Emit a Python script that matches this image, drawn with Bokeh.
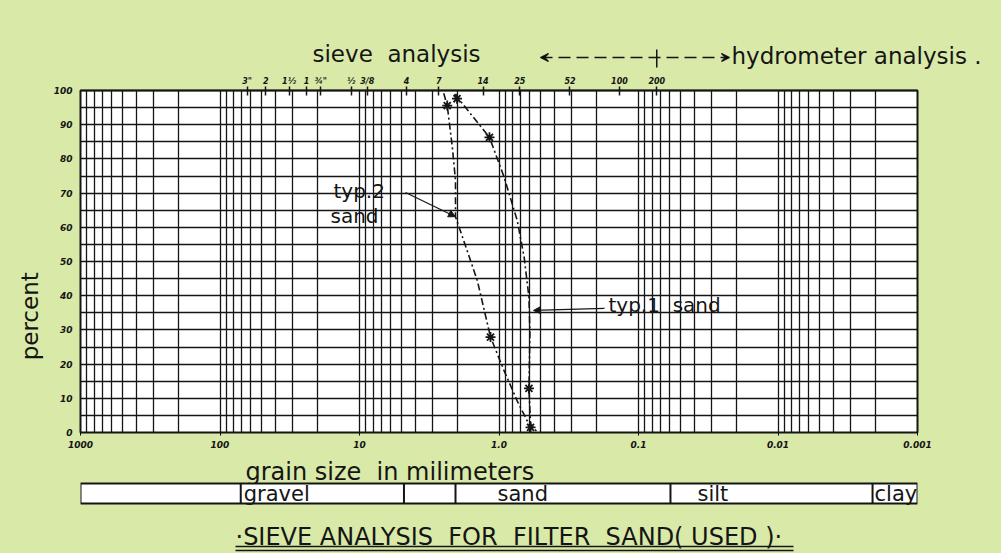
import math
from bokeh.plotting import figure
from bokeh.layouts import column
from bokeh.models import Range1d, FixedTicker, LogAxis, Arrow, NormalHead, VeeHead
from bokeh.embed import file_html
from bokeh.resources import INLINE
from bokeh.core.properties import value

# ---------------- data ----------------
type1_mm = [2.08, 1.17, 0.92, 0.74, 0.66, 0.61, 0.60, 0.61, 0.594, 0.53]
type1_pct = [99.0, 86.3, 74.7, 62.0, 51.2, 39.5, 29.0, 12.9, 2.5, 0.0]
type1_star_mm = [2.0, 1.17, 0.61]
type1_star_pct = [97.6, 86.3, 12.9]

type2_mm = [2.49, 2.35, 2.16, 2.05, 2.05, 1.79, 1.43, 1.15, 0.92, 0.74, 0.594]
type2_pct = [99.2, 95.6, 83.4, 73.7, 63.1, 56.1, 44.4, 27.9, 18.1, 9.2, 1.5]
type2_star_mm = [2.35, 1.15, 0.594]
type2_star_pct = [95.6, 27.9, 1.5]

sieve_mm = [64, 47, 32, 24, 19, 11.5, 8.8, 4.6, 2.7, 1.3, 0.71, 0.31, 0.137, 0.074]
sieve_labels = ['3"', '2', '1½', '1', '¾"', '½', '3/8', '4', '7', '14', '25', '52', '100', '200']

size_ticks = [1000, 100, 10, 1, 0.1, 0.01, 0.001]
size_labels = ["1000", "100", "10", "1.0", "0.1", "0.01", "0.001"]
pct_ticks = [0, 10, 20, 30, 40, 50, 60, 70, 80, 90, 100]

soil_bounds_mm = [71, 4.8, 2.05, 0.059, 0.0021]
soil_names = ["gravel", "sand", "silt", "clay"]
soil_name_mm = [71, 2.05, 0.059, 0.0021]

# ---------------- styling ----------------
BG = "#d9e9a8"
INK = "#151515"
FONT = "DejaVu Sans"
W = 1001
FRAME_L, FRAME_R = 80, 84
PX_PER_DEC = (W - FRAME_L - FRAME_R) / 6.0
HEAD_H = 72


def px2mm(px):
    return 10 ** (3 - (px - FRAME_L) / PX_PER_DEC)


def mm2px(mm):
    return FRAME_L + (3 - math.log10(mm)) * PX_PER_DEC


NB = "\u00a0"

# ---------------- header ----------------
h = figure(width=W, height=HEAD_H, x_range=Range1d(0, W), y_range=Range1d(HEAD_H, 0),
           x_axis_location=None, y_axis_location=None, title=None,
           output_backend="svg", toolbar_location=None, min_border=0,
           background_fill_color=BG, border_fill_color=BG, outline_line_color=None)
h.frame_align = False
h.grid.visible = False
h.text(x=[312, 731], y=[53, 55], text=["sieve" + NB + NB + "analysis", "hydrometer analysis ."],
       text_font=value(FONT), text_font_size="23px", text_color=INK,
       text_align="left", text_baseline="alphabetic")
h.add_layout(Arrow(start=VeeHead(size=8, line_color=INK, line_width=1.3),
                   end=VeeHead(size=8, line_color=INK, line_width=1.3),
                   x_start=540, y_start=57, x_end=729, y_end=57,
                   line_color=INK, line_width=1.3, line_dash="12 6"))
px200 = mm2px(sieve_mm[-1])
h.segment(x0=[px200], y0=[49], x1=[px200], y1=[67], line_color=INK, line_width=1.5)

# ---------------- main chart ----------------
p = figure(width=W, height=454 - HEAD_H, x_axis_type="log",
           x_range=Range1d(size_ticks[0], size_ticks[-1]), y_range=Range1d(0, 100),
           title=None, output_backend="svg", toolbar_location=None,
           min_border_left=FRAME_L, min_border_right=FRAME_R,
           min_border_top=90 - HEAD_H, min_border_bottom=22,
           background_fill_color="white", border_fill_color=BG,
           outline_line_color=INK, outline_line_width=2)

grid_mm = [m * 10.0 ** k for k in range(-3, 3) for m in range(1, 10)] + [1000.0]
p.xgrid.ticker = FixedTicker(ticks=grid_mm)
p.ygrid.ticker = FixedTicker(ticks=list(range(0, 101, 5)))
p.xgrid.grid_line_color = INK
p.xgrid.grid_line_width = 1.3
p.ygrid.grid_line_color = INK
p.ygrid.grid_line_width = 1.3

xa = p.xaxis[0]
xa.ticker = FixedTicker(ticks=size_ticks, minor_ticks=[])
xa.major_label_overrides = dict(zip(size_ticks, size_labels))
xa.major_tick_in = 0
xa.major_tick_out = 3
xa.minor_tick_in = 0
xa.minor_tick_out = 0
xa.major_label_standoff = 5
xa.major_label_text_font = FONT
xa.major_label_text_font_size = "9px"
xa.major_label_text_font_style = "bold italic"
xa.major_label_text_color = INK
xa.axis_line_color = INK

ya = p.yaxis[0]
ya.ticker = FixedTicker(ticks=pct_ticks, minor_ticks=[])
ya.major_tick_in = 0
ya.major_tick_out = 0
ya.minor_tick_in = 0
ya.minor_tick_out = 0
ya.major_label_standoff = 8
ya.major_label_text_font = FONT
ya.major_label_text_font_size = "9px"
ya.major_label_text_font_style = "bold italic"
ya.major_label_text_color = INK
ya.axis_line_color = INK
ya.axis_label = "percent" + NB * 15
ya.axis_label_text_font = FONT
ya.axis_label_text_font_size = "23px"
ya.axis_label_text_font_style = "normal"
ya.axis_label_text_color = INK
ya.axis_label_standoff = 8

top = LogAxis(ticker=FixedTicker(ticks=sieve_mm, minor_ticks=[]),
              major_label_overrides=dict(zip(sieve_mm, sieve_labels)),
              major_tick_in=5, major_tick_out=4, minor_tick_in=0, minor_tick_out=0,
              major_tick_line_width=1.5, major_tick_line_color=INK,
              major_label_standoff=1, major_label_text_font=FONT,
              major_label_text_font_size="8px", major_label_text_font_style="bold italic",
              major_label_text_color=INK, axis_line_color=INK, axis_line_width=1.5)
p.add_layout(top, "above")

p.line(type1_mm, type1_pct, line_color=INK, line_width=1.6, line_dash="7 3 2 3")
p.scatter(type1_star_mm, type1_star_pct, marker="asterisk", size=10, line_color=INK, line_width=1.8)
p.line(type2_mm, type2_pct, line_color=INK, line_width=1.6, line_dash="7 3 2 3")
p.scatter(type2_star_mm, type2_star_pct, marker="asterisk", size=10, line_color=INK, line_width=1.8)

note_mm = [px2mm(333), px2mm(330), px2mm(608)]
note_pct = [70.7, 63.4, 37.4]
p.text(x=note_mm, y=note_pct, text=["typ.2", "sand", "typ.1" + NB + NB + "sand"],
       text_font=value(FONT), text_font_size="20px", text_color=INK,
       text_align="left", text_baseline="alphabetic")
p.add_layout(Arrow(end=NormalHead(size=7, fill_color=INK, line_color=INK),
                   x_start=px2mm(405), y_start=70.2, x_end=type2_mm[4], y_end=type2_pct[4],
                   line_color=INK, line_width=1.2))
p.add_layout(Arrow(end=NormalHead(size=7, fill_color=INK, line_color=INK),
                   x_start=px2mm(604), y_start=36.3, x_end=px2mm(533), y_end=35.7,
                   line_color=INK, line_width=1.2))

# ---------------- soil classification bar and caption ----------------
b = figure(width=W, height=99, x_axis_type="log", x_range=p.x_range, y_range=Range1d(99, 0),
           x_axis_location=None, y_axis_location=None, title=None,
           output_backend="svg", toolbar_location=None,
           min_border_left=FRAME_L, min_border_right=FRAME_R, min_border_top=0, min_border_bottom=0,
           background_fill_color=BG, border_fill_color=BG, outline_line_color=None)
b.grid.visible = False
b.text(x=[px2mm(245)], y=[17], text=["grain size" + NB + NB + "in milimeters"],
       text_font=value(FONT), text_font_size="24px", text_color=INK,
       text_align="left", text_baseline="alphabetic")
b.quad(left=[size_ticks[0]], right=[size_ticks[-1]], top=[29], bottom=[49],
       fill_color="white", line_color=INK, line_width=2)
b.segment(x0=soil_bounds_mm, y0=[29] * len(soil_bounds_mm), x1=soil_bounds_mm,
          y1=[49] * len(soil_bounds_mm), line_color=INK, line_width=2)
b.text(x=soil_name_mm, y=[39] * 4, text=soil_names, x_offset=[3, 42, 27, 2],
       text_font=value(FONT), text_font_size="21px", text_color=INK,
       text_align="left", text_baseline="alphabetic")
b.text(x=[px2mm(235)], y=[82],
       text=["·SIEVE ANALYSIS" + NB + " FOR" + NB + " FILTER" + NB + " SAND(" + NB + "USED )·"],
       text_font=value(FONT), text_font_size="24px", text_color=INK,
       text_align="left", text_baseline="alphabetic")
b.segment(x0=[px2mm(235), px2mm(235)], y0=[92, 96], x1=[px2mm(793), px2mm(793)], y1=[92, 96],
          line_color=INK, line_width=1.3)

layout = column(h, p, b, spacing=0, styles={"background-color": BG})
open("out.html", "w").write(file_html(layout, INLINE))
